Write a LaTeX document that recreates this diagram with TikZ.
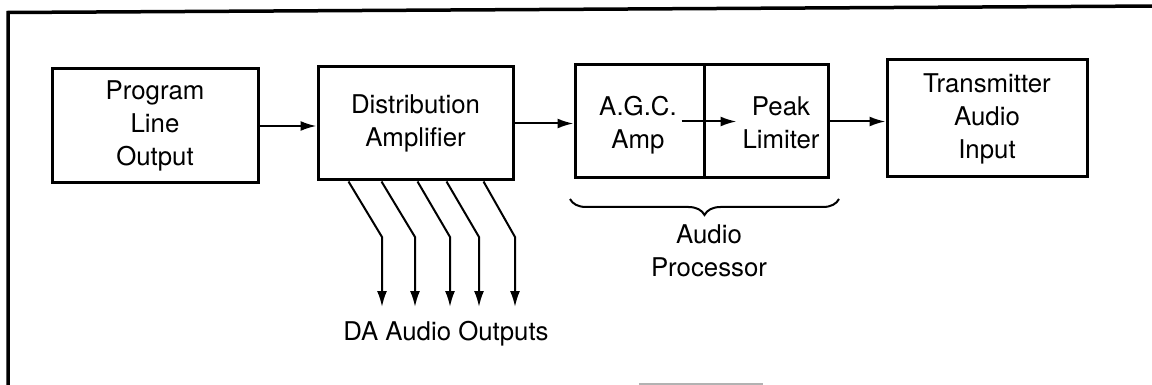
\documentclass[tikz,border=0pt]{standalone}
\usepackage{fontspec}
\setmainfont{TeX Gyre Heros}
\usetikzlibrary{arrows.meta,decorations.pathreplacing,calc}
\begin{document}
\begin{tikzpicture}[x=0.5pt,y=-0.5pt,
  txt/.style={inner sep=0pt,align=center,font=\fontsize{12.9}{16.5}\selectfont},
  blk/.style={draw,line width=1.5pt,inner sep=0pt,align=center,font=\fontsize{12.9}{16.5}\selectfont},
  conn/.style={line width=1pt,-{Latex[length=8pt,width=5pt]}},
  frame/.style={line width=1.75pt},
]
\useasboundingbox (0,0) rectangle (1152,385);
% outer frame (only top and left edges visible)
\draw[frame] (8,395) -- (8,12.5) -- (1160,6);
\draw[gray!60,line width=0.75pt] (639,384) -- (763,384);

% blocks
\node[blk,minimum width=103pt,minimum height=57pt] (plo) at (155,126) {Program\\Line\\Output};
\node[blk,minimum width=97.5pt,minimum height=56.5pt] (da) at (415.5,123.5) {Distribution\\Amplifier};
\node[blk,minimum width=64.5pt,minimum height=56.5pt] (agc) at (639.5,121.5) {};
\node[blk,minimum width=62pt,minimum height=56.5pt] (peak) at (766,121.5) {};
\node[txt] (agct) at (638,125) {A.G.C.\\Amp};
\node[txt] (peakt) at (781,123) {Peak\\Limiter};
\node[blk,minimum width=100pt,minimum height=58.5pt] (tx) at (987,118.5) {Transmitter\\Audio\\Input};

% main signal path
\draw[conn] (plo.east) -- (plo.east -| da.west);
\draw[conn] (da.east) -- (da.east -| agc.west);
\draw[conn] ([xshift=-12pt]agc.east) -- ([xshift=17pt]peak.west);
\draw[conn] (peak.east) -- (peak.east -| tx.west);

% brace and label
\coordinate (bl) at (570,199);
\coordinate (br) at (839,199);
\draw[line width=1pt,decorate,decoration={brace,mirror,amplitude=8pt}] (bl) -- (br);
\node[txt] (ap) at (709,251) {Audio\\Processor};

% DA outputs
\foreach \s/\b [count=\i] in {350/382, 383/415, 419/450, 448/479, 485/515} {
  \coordinate (o\i) at (\b,307);
  \draw[conn] ($(da.south west)+({\s-318},0)$) -- (\b,237) -- (o\i);
}
\node[txt] (dao) at (446,333.5) {DA Audio Outputs};
\end{tikzpicture}
\end{document}
